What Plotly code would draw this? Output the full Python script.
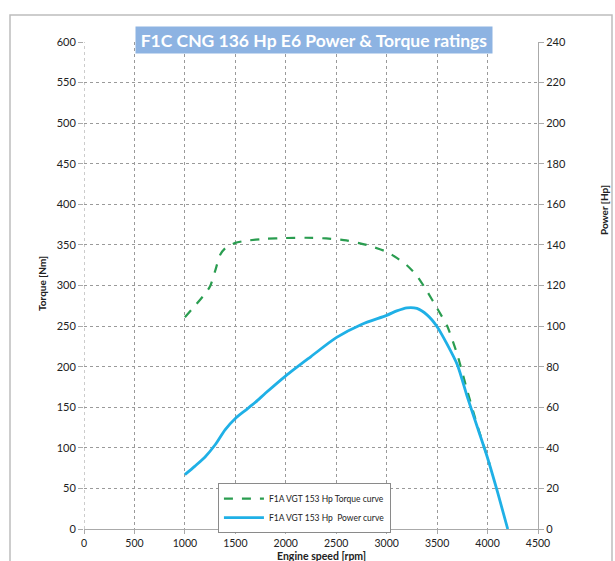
import plotly.graph_objects as go

# Data
torque_rpm = [1000, 1100, 1200, 1250, 1300, 1350, 1400, 1500, 1600, 1800, 2000, 2200, 2400,
              2600, 2800, 3000, 3100, 3200, 3300, 3400, 3500, 3600, 3700, 3800, 3900, 4000, 4020]
torque_nm = [261, 275, 290, 299, 318, 338, 346, 352.5, 355, 357.5, 358.5, 358.8, 358,
             355.5, 350, 341.5, 334, 325, 312, 293, 272, 250, 215, 170, 127, 88, 80]

power_rpm = [1000, 1100, 1200, 1300, 1400, 1500, 1600, 1700, 1800, 2000, 2250, 2500, 2750,
             3000, 3100, 3200, 3300, 3400, 3500, 3600, 3700, 3800, 3900, 4000, 4100, 4200]
power_hp = [26.8, 31, 35.5, 41.5, 49, 54.5, 58.5, 62.5, 67, 75.5, 85, 94.3, 100.8,
            105.3, 107.5, 109, 108.7, 105.5, 99.7, 91, 81, 65, 50, 35, 18, 0]

x_ticks = [0, 500, 1000, 1500, 2000, 2500, 3000, 3500, 4000, 4500]
title_text = "F1C CNG 136 Hp E6 Power & Torque ratings"

FONT = "Lato, Open Sans, sans-serif"
GRID = "#9a9a9a"

fig = go.Figure()
fig.add_trace(go.Scatter(
    x=torque_rpm, y=torque_nm, mode="lines", name="F1A VGT 153 Hp Torque curve",
    line=dict(color="#2a9d50", width=2.2, dash="dash", shape="spline", smoothing=0.6),
    yaxis="y"))
fig.add_trace(go.Scatter(
    x=power_rpm, y=power_hp, mode="lines", name="F1A VGT 153 Hp  Power curve",
    line=dict(color="#1fb0e6", width=2.8, shape="spline", smoothing=0.7),
    yaxis="y2"))

fig.update_layout(
    width=615, height=561,
    margin=dict(l=84, r=77, t=42, b=32),
    paper_bgcolor="white", plot_bgcolor="white",
    font=dict(family=FONT, size=11, color="#222"),
    showlegend=True,
    legend=dict(x=0.295, y=0.094, xanchor="left", yanchor="top",
                bgcolor="white", bordercolor="#8a8a8a", borderwidth=1,
                font=dict(size=8.5, color="#222"), tracegroupgap=0, itemwidth=40),
    xaxis=dict(range=[0, 4500], tickvals=x_ticks, showgrid=True,
               gridcolor=GRID, griddash="dot", gridwidth=1,
               ticks="outside", ticklen=4, tickcolor="#aaa",
               showline=True, linecolor="#aaa", linewidth=1,
               zeroline=False, tickfont=dict(size=10.5, color="#222")),
    yaxis=dict(range=[0, 600], dtick=50, showgrid=True,
               gridcolor=GRID, griddash="dot", gridwidth=1,
               ticks="outside", ticklen=5, tickcolor="#aaa",
               showline=False, zeroline=False, tickfont=dict(size=11, color="#222")),
    yaxis2=dict(range=[0, 240], dtick=20, overlaying="y", side="right",
                showgrid=False, ticks="outside", ticklen=5, tickcolor="#aaa",
                showline=True, linecolor="#aaa", linewidth=1, zeroline=False,
                tickfont=dict(size=11, color="#222")),
)

# vertical grid line at x=0 (left border, dashed)
fig.add_shape(type="line", xref="x", yref="paper", x0=0, x1=0, y0=0, y1=1,
              line=dict(color=GRID, width=1, dash="dot"), layer="below")

# outer frame
fig.add_shape(type="rect", xref="paper", yref="paper",
              x0=(10 - 84) / 454, x1=(612 - 84) / 454,
              y0=(529 - 580) / 487, y1=(529 - 15) / 487,
              line=dict(color="#bdbdbd", width=1.5), fillcolor="rgba(0,0,0,0)", layer="below")

# title box
fig.add_annotation(text="<b>" + title_text + "</b>", xref="paper", yref="paper",
                   x=(314 - 84) / 454, y=(529 - 40) / 487, xanchor="center", yanchor="middle",
                   showarrow=False, bgcolor="#8db3e2", width=354, height=24,
                   font=dict(family=FONT, size=17.5, color="white"))

# axis titles
fig.add_annotation(text="<b>Engine speed [rpm]</b>", xref="paper", yref="paper",
                   x=(321 - 84) / 454, y=(529 - 556) / 487, xanchor="center", yanchor="middle",
                   showarrow=False, font=dict(family=FONT, size=10.5, color="#222"))
fig.add_annotation(text="<b>Torque [Nm]</b>", xref="paper", yref="paper",
                   x=(42 - 84) / 454, y=(529 - 284) / 487, xanchor="center", yanchor="middle",
                   textangle=-90, showarrow=False, font=dict(family=FONT, size=10, color="#222"))
fig.add_annotation(text="<b>Power [Hp]</b>", xref="paper", yref="paper",
                   x=(604 - 84) / 454, y=(529 - 210) / 487, xanchor="center", yanchor="middle",
                   textangle=-90, showarrow=False, font=dict(family=FONT, size=10, color="#222"))

fig.write_html("out.html", post_script="document.body.style.margin='0';",
               config={"displayModeBar": False})
